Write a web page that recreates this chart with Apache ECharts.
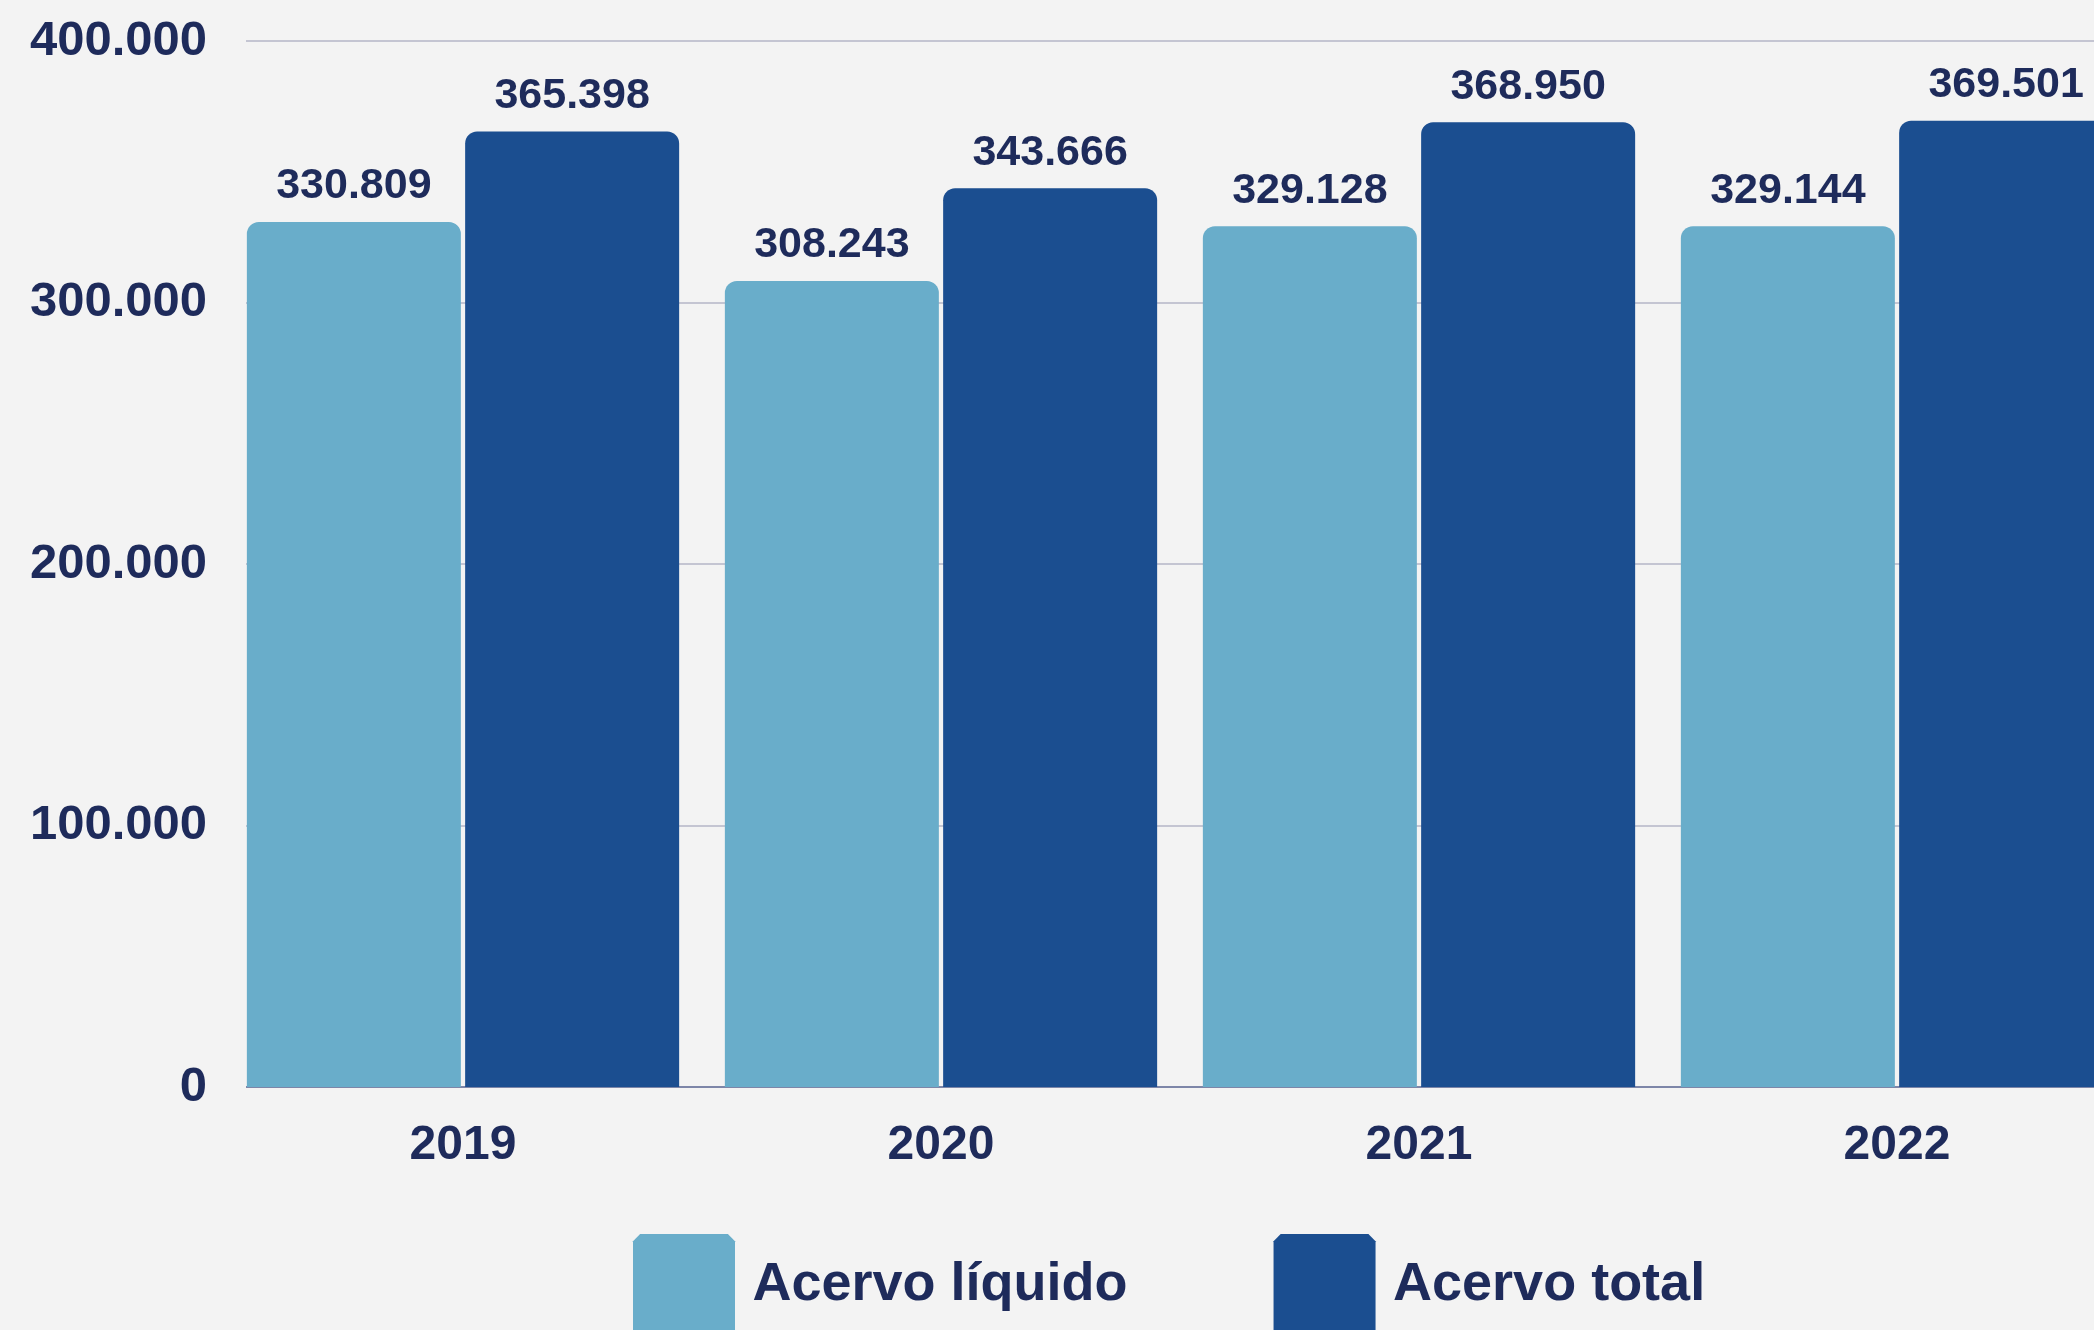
<!DOCTYPE html>
<html>
<head>
<meta charset="utf-8">
<script src="https://cdn.jsdelivr.net/npm/echarts@6/dist/echarts.min.js"></script>
<style>
html,body{margin:0;padding:0;background:#f3f3f3;overflow:hidden;width:2094px;height:1330px;}
#c{width:2136px;height:1330px;}
</style>
</head>
<body>
<div id="c"></div>
<script>
const categories = ['2019', '2020', '2021', '2022'];
const acervoLiquido = [330809, 308243, 329128, 329144];
const acervoTotal = [365398, 343666, 368950, 369501];
const seriesNames = ['Acervo líquido', 'Acervo total'];
const yTicks = [0, 100000, 200000, 300000, 400000];

const textColor = '#1e2b5b';
const font = '"Liberation Sans", Arial, sans-serif';
function fmt(v) {
  return String(Math.round(v)).replace(/\B(?=(\d{3})+(?!\d))/g, '.');
}
const iconPath = 'path://M7,0 L93,0 L100,7 L100,100 L0,100 L0,7 Z';

const chart = echarts.init(document.getElementById('c'), null, {renderer: 'canvas'});
chart.setOption({
  backgroundColor: '#f3f3f3',
  animation: false,
  grid: {left: 224, right: 0, top: 41, height: 1046, containLabel: false},
  legend: {
    data: seriesNames,
    left: 633, top: 1234, padding: 0,
    itemWidth: 103, itemHeight: 102, itemGap: 146,
    icon: iconPath,
    textStyle: {color: textColor, fontSize: 54, fontWeight: 'bold', fontFamily: font, padding: [5, 0, 0, 12]}
  },
  xAxis: {
    type: 'category',
    data: categories,
    axisTick: {show: false},
    axisLine: {show: true, lineStyle: {color: '#7d86a8', width: 2}},
    axisLabel: {color: textColor, fontSize: 48, fontWeight: 'bold', fontFamily: font, margin: 35}
  },
  yAxis: {
    type: 'value',
    min: yTicks[0], max: yTicks[yTicks.length - 1], interval: yTicks[1] - yTicks[0],
    axisLine: {show: false}, axisTick: {show: false},
    splitLine: {lineStyle: {color: '#c4c5d2', width: 2}},
    axisLabel: {color: textColor, fontSize: 49, fontWeight: 'bold', fontFamily: font, margin: 17, padding: [20, 0, 0, 0], formatter: fmt}
  },
  series: [
    {
      name: seriesNames[0], type: 'bar', data: acervoLiquido,
      barWidth: 214, barGap: '2%',
      itemStyle: {color: '#69adca', borderRadius: [12, 12, 0, 0]},
      label: {show: true, position: 'top', distance: 14, color: textColor, fontSize: 43, fontWeight: 'bold', fontFamily: font, formatter: p => fmt(p.value)}
    },
    {
      name: seriesNames[1], type: 'bar', data: acervoTotal,
      barWidth: 214, barGap: '2%',
      itemStyle: {color: '#1b4e90', borderRadius: [12, 12, 0, 0]},
      label: {show: true, position: 'top', distance: 14, color: textColor, fontSize: 43, fontWeight: 'bold', fontFamily: font, formatter: p => fmt(p.value)}
    }
  ],
  graphic: [{
    type: 'rect', z: 100, silent: true,
    shape: {x: 212, y: 30, width: 34, height: 1065},
    style: {fill: '#f3f3f3'}
  }]
});
</script>
</body>
</html>
